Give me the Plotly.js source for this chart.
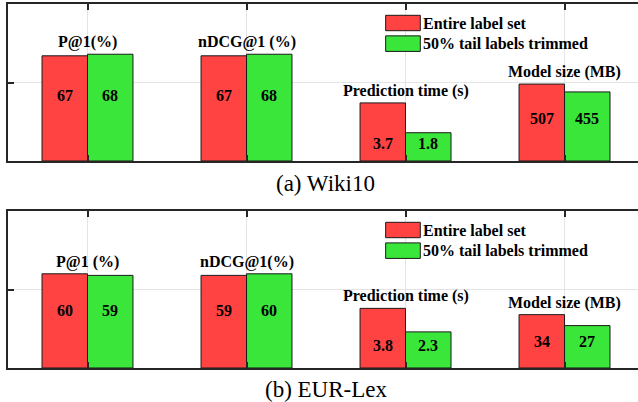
<!DOCTYPE html>
<html>
<head>
<meta charset="utf-8">
<script src="https://cdn.plot.ly/plotly-3.0.1.min.js"></script>
<style>
html, body { margin: 0; padding: 0; overflow: hidden; background: #fff; }
</style>
</head>
<body>
<div id="chart"></div>
<script>
// ---- data ----
const positions = [1, 2, 3, 4];
const metricsWiki = ["P@1(%)", "nDCG@1 (%)", "Prediction time (s)", "Model size (MB)"];
const metricsEur = ["P@1 (%)", "nDCG@1(%)", "Prediction time (s)", "Model size (MB)"];
const seriesNames = ["Entire label set", "50% tail labels trimmed"];
const captions = ["(a) Wiki10", "(b) EUR-Lex"];

const wikiEntireLabels = ["67", "67", "3.7", "507"];
const wikiTrimLabels = ["68", "68", "1.8", "455"];
const wikiEntireHeight = [0.67, 0.67, 0.37, 0.49];
const wikiTrimHeight = [0.68, 0.68, 0.18, 0.44];

const eurEntireLabels = ["60", "59", "3.8", "34"];
const eurTrimLabels = ["59", "60", "2.3", "27"];
const eurEntireHeight = [0.60, 0.59, 0.38, 0.34];
const eurTrimHeight = [0.59, 0.60, 0.23, 0.27];

// ---- style ----
const RED = "rgb(255,66,66)";
const GREEN = "rgb(58,230,58)";
const AXC = "#262626";
const bargap = 0.428;
const barW = (1 - bargap) / 2;

function boldFont() { return { family: "Liberation Serif", size: 16, color: "#000", weight: "bold" }; }

function barTrace(name, h, color, xa, ya) {
  return {
    type: "bar", name: name, x: positions, y: h,
    xaxis: xa, yaxis: ya, showlegend: false,
    marker: { color: color, line: { color: "#1a1a1a", width: 1 } },
    hoverinfo: "skip"
  };
}

const data = [
  barTrace(seriesNames[0], wikiEntireHeight, RED, "x", "y"),
  barTrace(seriesNames[1], wikiTrimHeight, GREEN, "x", "y"),
  barTrace(seriesNames[0], eurEntireHeight, RED, "x2", "y2"),
  barTrace(seriesNames[1], eurTrimHeight, GREEN, "x2", "y2")
];

const annotations = [];
const shapes = [];

function panel(metrics, eH, tH, eL, tL, xr, yr) {
  positions.forEach((p, i) => {
    const top = Math.max(eH[i], tH[i]);
    const lblY = 0.62 * Math.min(eH[i], tH[i]);
    annotations.push({ xref: xr, yref: yr, x: p, y: top, yanchor: "bottom", xanchor: "center",
      text: metrics[i], showarrow: false, font: boldFont(), yshift: 1 });
    annotations.push({ xref: xr, yref: yr, x: p - barW / 2, y: lblY, yanchor: "middle",
      text: eL[i], showarrow: false, font: boldFont() });
    annotations.push({ xref: xr, yref: yr, x: p + barW / 2, y: lblY, yanchor: "middle",
      text: tL[i], showarrow: false, font: boldFont() });
  });
  // manual legend
  const lx0 = 2.875, lx1 = 3.093;
  const rows = [[0.83, 0.928, RED, seriesNames[0]], [0.698, 0.797, GREEN, seriesNames[1]]];
  rows.forEach(r => {
    shapes.push({ type: "rect", xref: xr, yref: yr, x0: lx0, x1: lx1, y0: r[0], y1: r[1],
      fillcolor: r[2], line: { color: "#1a1a1a", width: 1 } });
    annotations.push({ xref: xr, yref: yr, x: lx1, y: (r[0] + r[1]) / 2, xanchor: "left",
      yanchor: "middle", xshift: 1, text: r[3], showarrow: false, font: boldFont() });
  });
}
panel(metricsWiki, wikiEntireHeight, wikiTrimHeight, wikiEntireLabels, wikiTrimLabels, "x", "y");
panel(metricsEur, eurEntireHeight, eurTrimHeight, eurEntireLabels, eurTrimLabels, "x2", "y2");

annotations.push({ xref: "paper", yref: "paper", x: 0.504, y: 0.5069, xanchor: "center", yanchor: "middle",
  text: captions[0], showarrow: false, font: { family: "Liberation Serif", size: 23, color: "#000" } });
annotations.push({ xref: "paper", yref: "paper", x: 0.504, y: -0.0577, xanchor: "center", yanchor: "middle",
  text: captions[1], showarrow: false, font: { family: "Liberation Serif", size: 23, color: "#000" } });

function xAxis(anchor) {
  return { anchor: anchor, range: [0.5, 4.462], tickvals: positions, showticklabels: false,
    ticks: "inside", ticklen: 6, tickwidth: 1.5, tickcolor: AXC,
    showline: true, linecolor: AXC, linewidth: 1.5, mirror: "ticks",
    showgrid: true, gridcolor: "#e4e4e4", gridwidth: 1, zeroline: false };
}
function yAxis(anchor, domain) {
  return { anchor: anchor, domain: domain, range: [0, 1], tickvals: [0.5], showticklabels: false,
    ticks: "inside", ticklen: 6, tickwidth: 1.5, tickcolor: AXC,
    showline: true, linecolor: AXC, linewidth: 1.5, mirror: false,
    showgrid: true, gridcolor: "#e4e4e4", gridwidth: 1, zeroline: false };
}

const layout = {
  width: 638, height: 402,
  margin: { l: 8, r: 0, t: 4, b: 34 },
  paper_bgcolor: "#fff", plot_bgcolor: "#fff",
  barmode: "group", bargap: bargap, bargroupgap: 0,
  showlegend: false,
  font: { family: "Liberation Serif" },
  xaxis: xAxis("y"),
  yaxis: yAxis("x", [0.5687, 1]),
  xaxis2: xAxis("y2"),
  yaxis2: yAxis("x2", [0, 0.4313]),
  annotations: annotations,
  shapes: shapes
};

Plotly.newPlot("chart", data, layout, { displayModeBar: false });
</script>
</body>
</html>
